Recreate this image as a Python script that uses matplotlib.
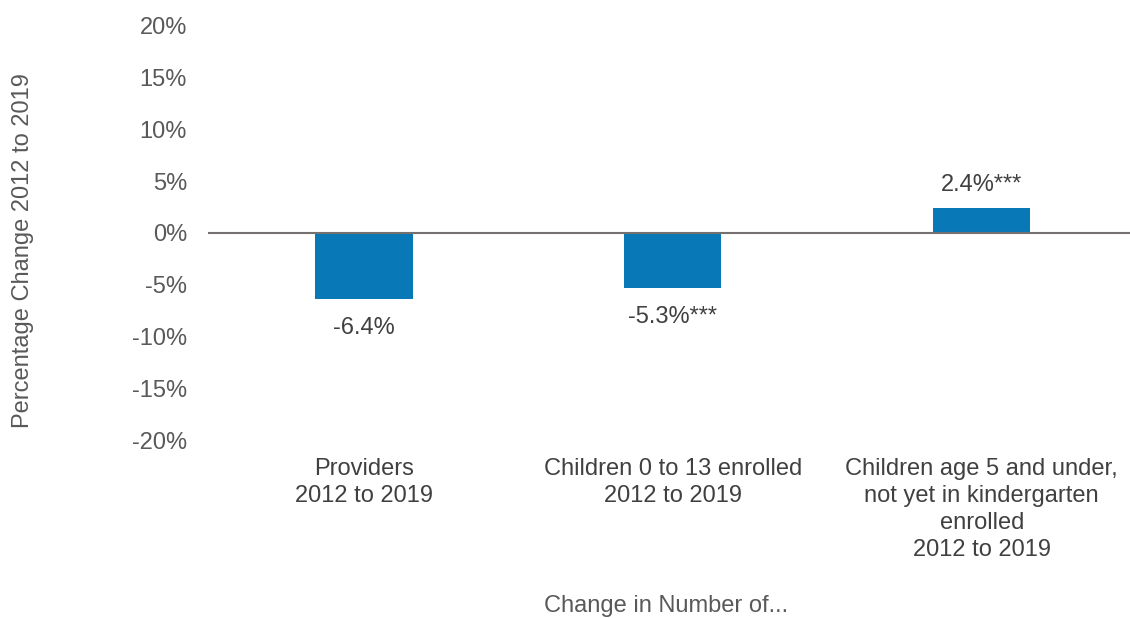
import matplotlib
matplotlib.use("Agg")
import matplotlib.pyplot as plt
from matplotlib.ticker import FuncFormatter

plt.rcParams["font.family"] = ["Liberation Sans", "DejaVu Sans"]

# data
categories = [
    "Providers\n2012 to 2019",
    "Children 0 to 13 enrolled\n2012 to 2019",
    "Children age 5 and under,\nnot yet in kindergarten\nenrolled\n2012 to 2019",
]
pct_change = [-6.4, -5.3, 2.4]
value_labels = ["-6.4%", "-5.3%***", "2.4%***"]
yticks = [-20, -15, -10, -5, 0, 5, 10, 15, 20]

BAR_COLOR = "#0878B6"
TEXT_COLOR = "#595959"
FS = 17

fig = plt.figure(figsize=(11.3, 6.18), dpi=100)
ax = fig.add_axes([0.184, 0.288, 0.816, 0.670])

x = list(range(len(categories)))
ax.bar(x, pct_change, width=0.315, color=BAR_COLOR, zorder=2)
ax.axhline(0, color="#767171", lw=1.5, zorder=3)

for xi, v, lab in zip(x, pct_change, value_labels):
    if v < 0:
        ax.annotate(lab, (xi, v), xytext=(0, -13), textcoords="offset points",
                    ha="center", va="top", fontsize=FS, color="#404040")
    else:
        ax.annotate(lab, (xi, v), xytext=(0, 9), textcoords="offset points",
                    ha="center", va="bottom", fontsize=FS, color="#404040")

ax.set_xlim(-0.505, 2.48)
ax.set_ylim(-20, 20)
ax.set_yticks(yticks)
ax.yaxis.set_major_formatter(FuncFormatter(lambda v, p: f"{v:.0f}%"))
ax.set_xticks(x)
ax.set_xticklabels(categories, fontsize=FS, color="#404040", linespacing=1.3)
ax.tick_params(axis="y", length=0, pad=15, labelsize=FS, labelcolor=TEXT_COLOR)
ax.tick_params(axis="x", length=0, pad=13)
for s in ax.spines.values():
    s.set_visible(False)

fig.text(0.589, 0.019, "Change in Number of...", ha="center", va="center",
         fontsize=FS, color=TEXT_COLOR)
fig.text(0.020, 0.594, "Percentage Change 2012 to 2019", ha="center", va="center",
         rotation=90, fontsize=FS, color=TEXT_COLOR)

fig.savefig("out.png", dpi=100)
